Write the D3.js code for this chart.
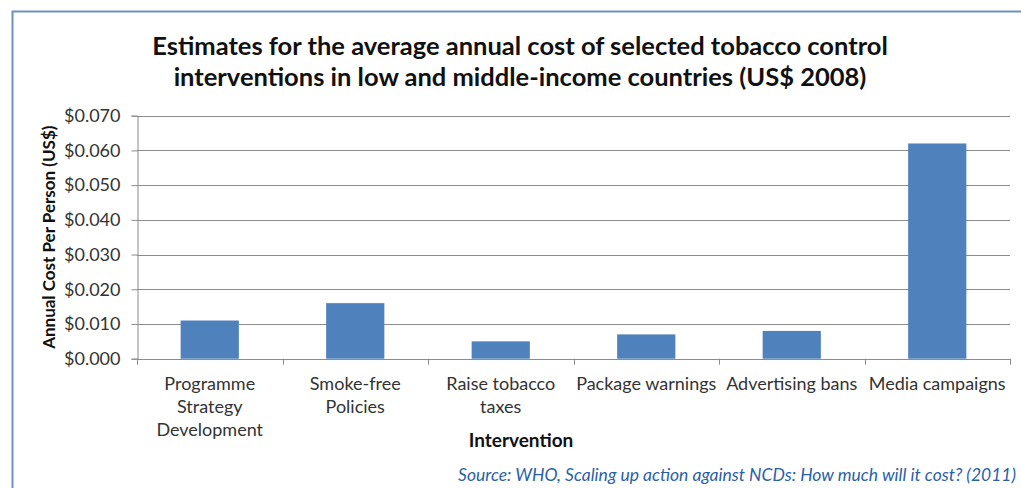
<!DOCTYPE html>
<html>
<head>
<meta charset="utf-8">
<script src="https://cdn.jsdelivr.net/npm/d3@7"></script>
<style>
  body { margin: 0; background: #fff; }
  text { font-family: Lato, "Open Sans", sans-serif; }
</style>
</head>
<body>
<div id="chart"></div>
<script>
// data
const categories = [
  ["Programme", "Strategy", "Development"],
  ["Smoke-free", "Policies"],
  ["Raise tobacco", "taxes"],
  ["Package warnings"],
  ["Advertising bans"],
  ["Media campaigns"]
];
const values = [0.011, 0.016, 0.005, 0.007, 0.008, 0.062];
const yTicks = [0, 0.01, 0.02, 0.03, 0.04, 0.05, 0.06, 0.07];
const titleLines = [
  "Estimates for the average annual cost of selected tobacco control",
  "interventions in low and middle-income countries (US$ 2008)"
];

const W = 1021, H = 488;
const plot = { left: 137, right: 1010, top: 115.7, bottom: 358.7 };

const svg = d3.select("#chart").append("svg")
  .attr("width", W)
  .attr("height", H);

// outer frame
svg.append("rect")
  .attr("x", 12.5).attr("y", 11.5)
  .attr("width", 1020).attr("height", 500)
  .attr("fill", "none")
  .attr("stroke", "#6d93bd")
  .attr("stroke-width", 2);

const idx = d3.range(categories.length);
const x = d3.scaleBand()
  .domain(idx)
  .range([plot.left, plot.right])
  .paddingInner(0.6)
  .paddingOuter(0.3);

const y = d3.scaleLinear()
  .domain([0, 0.07])
  .range([plot.bottom, plot.top]);

// gridlines
svg.append("g")
  .selectAll("line")
  .data(yTicks.slice(1))
  .enter().append("line")
  .attr("x1", plot.left).attr("x2", plot.right)
  .attr("y1", d => Math.round(y(d)) + 0.5)
  .attr("y2", d => Math.round(y(d)) + 0.5)
  .attr("stroke", "#8c8c8c")
  .attr("stroke-width", 1);

// y axis
const yAxis = svg.append("g")
  .attr("transform", "translate(" + (plot.left + 0.5) + ",0)")
  .call(d3.axisLeft(y).tickValues(yTicks).tickFormat(d => "$" + d3.format(".3f")(d)).tickSizeOuter(0).tickSize(6).tickPadding(11));
yAxis.select(".domain").attr("stroke", "#8c8c8c");
yAxis.selectAll(".tick line").attr("stroke", "#8c8c8c");
yAxis.selectAll(".tick text")
  .attr("fill", "#333")
  .style("font-size", "18px")
  .style("font-family", "Lato, sans-serif");

// bars
svg.append("g")
  .selectAll("rect")
  .data(values)
  .enter().append("rect")
  .attr("x", (d, i) => x(i))
  .attr("y", d => y(d))
  .attr("width", x.bandwidth())
  .attr("height", d => y(0) - y(d))
  .attr("fill", "#4f81bd");

// x axis line + category ticks
const step = x.step();
const bounds = idx.map(i => x(i) - step * 0.3).concat([plot.right]);
svg.append("line")
  .attr("x1", plot.left).attr("x2", plot.right)
  .attr("y1", Math.round(y(0)) + 0.5).attr("y2", Math.round(y(0)) + 0.5)
  .attr("stroke", "#8c8c8c");
svg.append("g")
  .selectAll("line")
  .data(bounds)
  .enter().append("line")
  .attr("x1", d => Math.round(d) + 0.5).attr("x2", d => Math.round(d) + 0.5)
  .attr("y1", y(0)).attr("y2", y(0) + 6)
  .attr("stroke", "#8c8c8c");

// category labels
const catText = svg.append("g")
  .selectAll("text")
  .data(categories)
  .enter().append("text")
  .attr("x", (d, i) => x(i) + x.bandwidth() / 2)
  .attr("y", 390)
  .attr("text-anchor", "middle")
  .attr("fill", "#333")
  .style("font-size", "18px");
catText.selectAll("tspan")
  .data(d => d)
  .enter().append("tspan")
  .attr("x", function () { return d3.select(this.parentNode).attr("x"); })
  .attr("dy", (d, i) => i === 0 ? 0 : 23)
  .text(d => d);

// title
svg.append("g")
  .selectAll("text")
  .data(titleLines)
  .enter().append("text")
  .attr("x", 520)
  .attr("y", (d, i) => 55 + i * 31)
  .attr("text-anchor", "middle")
  .attr("fill", "#111")
  .style("font-size", "25.5px")
  .style("font-weight", "bold")
  .text(d => d);

// axis titles
svg.append("text")
  .attr("transform", "rotate(-90)")
  .attr("x", -(plot.top + plot.bottom) / 2)
  .attr("y", 55)
  .attr("text-anchor", "middle")
  .attr("fill", "#111")
  .style("font-size", "17px")
  .style("font-weight", "bold")
  .text("Annual Cost Per Person (US$)");

svg.append("text")
  .attr("x", 521)
  .attr("y", 447)
  .attr("text-anchor", "middle")
  .attr("fill", "#111")
  .style("font-size", "19px")
  .style("font-weight", "bold")
  .text("Intervention");

// source note
svg.append("text")
  .attr("x", 1016)
  .attr("y", 481)
  .attr("text-anchor", "end")
  .attr("fill", "#2b5fa8")
  .style("font-size", "17.5px")
  .style("font-style", "italic")
  .text("Source: WHO, Scaling up action against NCDs: How much will it cost? (2011)");
</script>
</body>
</html>
